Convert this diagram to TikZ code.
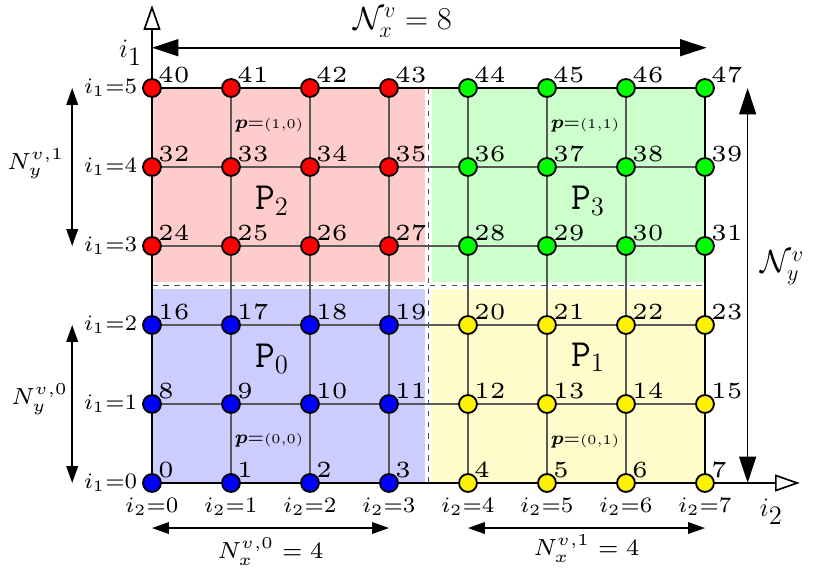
\documentclass[tikz,border=0pt]{standalone}
\usepackage{amsmath,amssymb,bm,graphicx}
\usetikzlibrary{arrows.meta,backgrounds}

% 小さい字を拡大して使う
\newcommand{\numtxt}[1]{\scalebox{2.5}{\tiny #1}}
\newcommand{\labtxt}[1]{\scalebox{1.7}{\scriptsize #1}}
\newcommand{\ptxt}[1]{\scalebox{1.45}{\scriptsize #1}}
\newcommand{\dimtxt}[1]{\scalebox{1.8}{\scriptsize #1}}

\begin{document}
\begin{tikzpicture}[
    x=1.5cm, y=1.5cm,
    vtx/.style={circle, draw=black, line width=1pt, minimum size=0.34cm, inner sep=0pt},
    num/.style={anchor=south west, inner sep=0pt},
    idxlab/.style={inner sep=2.5pt},
    thingrid/.style={black!65, line width=0.6pt},
    partdash/.style={black!70, dashed, line width=0.6pt},
    axis/.style={line width=0.9pt, -{Triangle[open, fill=white, length=0.47cm, width=0.32cm]}},
    bigdim/.style={line width=0.9pt, {Triangle[length=0.5cm, width=0.32cm]}-{Triangle[length=0.5cm, width=0.32cm]}},
    smalldim/.style={line width=0.8pt, {Triangle[length=0.32cm, width=0.22cm]}-{Triangle[length=0.32cm, width=0.22cm]}}
  ]
  \useasboundingbox (-1.924,-1.101) rectangle (8.418,6.114);

  % 格子点と番号
  \foreach \r in {0,...,5}{
    \foreach \c in {0,...,7}{
      \pgfmathtruncatemacro{\idx}{8*\r+\c}
      \pgfmathtruncatemacro{\pidx}{2*(\r>2)+(\c>3)}
      \ifcase\pidx \def\vcol{blue}\or \def\vcol{yellow}\or \def\vcol{red}\or \def\vcol{green}\fi
      \node[vtx, fill=\vcol] (v-\c-\r) at (\c,\r) {};
      \node[num] (n-\c-\r) at ([shift={(0.11cm,0.09cm)}]v-\c-\r.center) {\numtxt{\idx}};
    }
  }

  % 添字ラベル
  \foreach \r in {0,...,5}
    \node[idxlab, anchor=east] (ia-\r) at (v-0-\r.west) {\labtxt{$i_{\scriptscriptstyle 1}{=}\r$}};
  \foreach \c in {0,...,7}
    \node[idxlab, anchor=north] (ib-\c) at (v-\c-0.south) {\labtxt{$i_{\scriptscriptstyle 2}{=}\c$}};

  % 軸の端点
  \coordinate (i1tip) at (0,6.05);
  \coordinate (i2tip) at (8.2,0);

  \begin{pgfonlayer}{background}
    % 各プロセスの領域
    \fill[blue!20]   (v-0-0.center) rectangle (3.45,2.45);
    \fill[yellow!20] (3.55,0) rectangle (v-7-2 |- 0,2.45);
    \fill[red!20]    (0,2.55) rectangle (v-3-5 -| 3.45,5);
    \fill[green!20]  (3.55,2.55) rectangle (v-7-5.center);
    \draw[partdash] (3.5,0) -- (3.5,5);
    \draw[partdash] (0,2.5) -- (7,2.5);

    % 格子線
    \foreach \r in {1,...,4}
      \draw[thingrid] (v-0-\r.center) -- (v-7-\r.center);
    \foreach \c in {1,...,6}
      \draw[thingrid] (v-\c-0.center) -- (v-\c-5.center);
    \draw[line width=0.9pt] (v-0-5.center) -- (v-7-5.center) -- (v-7-0.center);

    % 軸
    \draw[axis] (v-0-0.center) -- (i1tip);
    \draw[axis] (v-0-0.center) -- (i2tip);
  \end{pgfonlayer}

  \node[font=\Large, inner sep=1pt] (i1lab) at (-0.27,5.45) {$i_{\textstyle 1}$};
  \node[font=\Large, inner sep=1pt] (i2lab) at (7.84,-0.36) {$i_{\textstyle 2}$};

  % パーティション名
  \node[font=\huge] (P0) at (1.52,1.57) {$\mathtt{P}_0$};
  \node[font=\huge] (P1) at (5.52,1.59) {$\mathtt{P}_1$};
  \node[font=\huge] (P2) at (1.52,3.57) {$\mathtt{P}_2$};
  \node[font=\huge] (P3) at (5.52,3.57) {$\mathtt{P}_3$};

  \node[anchor=west, inner sep=1pt] (p10) at (1.02,4.53) {\ptxt{$\bm{p}{=}{\scriptscriptstyle(1,0)}$}};
  \node[anchor=west, inner sep=1pt] (p11) at (5.02,4.53) {\ptxt{$\bm{p}{=}{\scriptscriptstyle(1,1)}$}};
  \node[anchor=west, inner sep=1pt] (p00) at (1.02,0.54) {\ptxt{$\bm{p}{=}{\scriptscriptstyle(0,0)}$}};
  \node[anchor=west, inner sep=1pt] (p01) at (5.02,0.53) {\ptxt{$\bm{p}{=}{\scriptscriptstyle(0,1)}$}};

  % 全体の寸法
  \coordinate (nxL) at (0,5.51);
  \coordinate (nxR) at (7.02,5.51);
  \draw[bigdim] (nxL) -- (nxR);
  \node[font=\LARGE, inner sep=1pt] (nx) at (3.17,5.83) {$\mathcal{N}_x^v = 8$};

  \coordinate (nyB) at (7.54,0);
  \coordinate (nyT) at (7.54,5);
  \draw[bigdim] (nyB) -- (nyT);
  \node[font=\LARGE, inner sep=1pt] (ny) at (7.98,2.72) {$\mathcal{N}_y^v$};

  % 各プロセスの寸法
  \coordinate (ny1T) at (-1.01,5);
  \coordinate (ny1B) at (-1.01,3);
  \draw[smalldim] (ny1T) -- (ny1B);
  \node[inner sep=1pt] (ny1) at (-1.47,4.04) {\dimtxt{$N_y^{v,1}$}};

  \coordinate (ny0T) at (-1.01,2);
  \coordinate (ny0B) at (-1.01,0);
  \draw[smalldim] (ny0T) -- (ny0B);
  \node[inner sep=1pt] (ny0) at (-1.42,1.06) {\dimtxt{$N_y^{v,0}$}};

  \coordinate (nx0L) at (0,-0.57);
  \coordinate (nx0R) at (3,-0.57);
  \draw[smalldim] (nx0L) -- (nx0R);
  \node[inner sep=1pt] (nx0) at (1.5,-0.87) {\dimtxt{$N_x^{v,0} = 4$}};

  \coordinate (nx1L) at (4,-0.57);
  \coordinate (nx1R) at (7,-0.57);
  \draw[smalldim] (nx1L) -- (nx1R);
  \node[inner sep=1pt] (nx1) at (5.5,-0.83) {\dimtxt{$N_x^{v,1} = 4$}};
\end{tikzpicture}
\end{document}
